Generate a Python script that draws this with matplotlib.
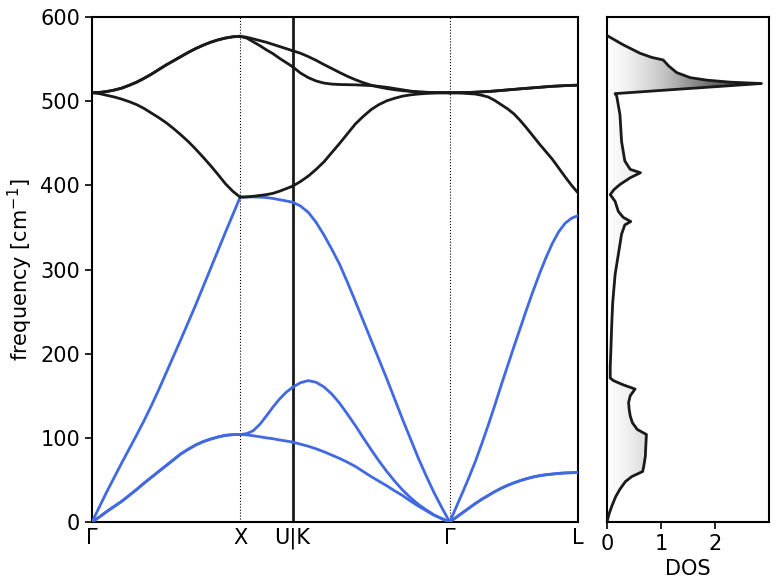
import numpy as np
import matplotlib.pyplot as plt
from matplotlib.patches import Polygon

# high-symmetry path, segment lengths in units of 2pi/a
kpath_labels = ['Γ', 'X', 'U|K', 'Γ', 'L']
seg_lengths = [1.0, 0.3536, 1.0607, 0.8660]

# sample positions along a segment (fraction of its length)
frac21 = [0, 0.05, 0.1, 0.15, 0.2, 0.25, 0.3, 0.35, 0.4, 0.45, 0.5,
          0.55, 0.6, 0.65, 0.7, 0.75, 0.8, 0.85, 0.9, 0.95, 1.0]
frac9 = [0, 0.125, 0.25, 0.375, 0.5, 0.625, 0.75, 0.875, 1.0]

# --- Γ-X ---
gx_ta = [0, 6, 12.5, 18.5, 24.5, 31.5, 38.5, 46, 53, 60, 67,
         74, 81, 86.5, 91.5, 95.5, 98.5, 101, 103, 103.8, 104]
gx_la = [0, 18, 36, 53, 70, 86.5, 103, 120, 138, 157, 177,
         197, 217, 237.5, 258, 279.5, 301, 322.5, 344, 365, 386]
gx_lo = [510, 509, 507, 505, 502.5, 499.5, 496, 491.5, 486, 480.5, 474.5,
         467.5, 460, 452, 443, 433.5, 423.5, 413, 402, 393, 386]
gx_to = [510, 510.4, 511.5, 513.2, 515.5, 518.8, 522.5, 527, 532, 537.5, 543,
         548, 553, 558, 562.5, 566.5, 570, 572.8, 575, 576.5, 577]

# --- X-U ---
xu_ta1 = [104, 103.5, 102.5, 101.3, 100, 99, 97.5, 96.3, 95]
xu_ta2 = [104, 105, 108.5, 116, 126, 136.5, 146, 154, 160]
xu_la = [386, 386.2, 386.2, 386, 385.5, 384.5, 383, 381.5, 380]
xu_lo = [386, 386.3, 387, 388, 389, 390.5, 393, 396, 399]
xu_to1 = [577, 575, 570.5, 566, 561, 556.5, 551, 546, 541]
xu_to2 = [577, 576, 574, 572, 570, 567.5, 565, 562.5, 560]

# --- K-Γ ---
kg_ta1 = [95, 92.5, 90, 87, 83.5, 79.5, 75.5, 71, 66, 60, 54,
          48.5, 43, 37, 31.5, 25, 19, 13.5, 8, 4, 0]
kg_ta2 = [160, 165.5, 168, 166, 160.5, 152, 141, 128, 114.5, 100, 86,
          72.5, 60, 48.5, 38, 29, 21, 14.5, 8.5, 4, 0]
kg_la = [380, 375.5, 368, 356, 341, 324, 306, 284.5, 262, 239, 216,
         193, 170, 146, 122, 99, 76, 55, 35, 17, 0]
kg_lo = [399, 404.5, 411, 419, 428, 439, 450, 461.5, 473, 482, 490,
         496, 500.5, 503.5, 506, 507.5, 508.5, 509.2, 509.6, 509.9, 510]
kg_to1 = [541, 533.5, 528, 524, 521.5, 520.3, 519.8, 519.6, 519.4, 519, 518.5,
          517.6, 516.5, 515, 513.5, 512, 511, 510.5, 510.3, 510.1, 510]
kg_to2 = [560, 557, 553, 548.5, 543.5, 538.8, 534, 529.5, 525.5, 522, 519,
          516.8, 515, 513.6, 512.5, 511.7, 511, 510.6, 510.3, 510.1, 510]

# --- Γ-L ---
gl_ta = [0, 5.5, 11, 16.5, 22, 27, 31.5, 36, 40, 43.5, 46.5,
         49.2, 51.5, 53.5, 55, 56.2, 57, 57.8, 58.3, 58.6, 58.8]
gl_la = [0, 17.5, 35, 53, 72, 93, 115, 138, 162, 185, 208,
         230.5, 253, 274.5, 295, 314, 331, 345, 355, 361, 364]
gl_lo = [510, 509.9, 509.5, 509, 508.5, 507, 505, 501, 496, 491, 485,
         477, 468, 458.5, 449, 440, 431, 420.5, 410, 400, 391]
gl_to = [510, 510.05, 510.2, 510.4, 510.7, 511.1, 511.5, 512.1, 512.7, 513.4, 514,
         514.7, 515.3, 515.9, 516.5, 517.1, 517.7, 518.1, 518.5, 518.8, 519]

# phonon DOS
dos_freq = [0, 10, 19, 30, 39, 48, 54, 60, 66, 78, 92, 104, 110, 118, 126, 134,
            142, 150, 158, 163, 168, 171, 185, 201, 230, 260, 294, 318, 342, 353,
            357, 362, 369, 381, 389, 395, 401, 409, 415, 419, 429, 452, 484, 506,
            509, 512, 515, 518, 521, 522.6, 525, 528, 534, 542, 549, 552, 557,
            567, 578]
dos_value = [0, 0.04, 0.09, 0.16, 0.24, 0.34, 0.46, 0.66, 0.68, 0.71, 0.72, 0.73,
             0.56, 0.47, 0.43, 0.41, 0.40, 0.43, 0.52, 0.30, 0.12, 0.06, 0.06,
             0.07, 0.085, 0.105, 0.15, 0.21, 0.27, 0.33, 0.44, 0.30, 0.21, 0.15,
             0.06, 0.13, 0.24, 0.43, 0.62, 0.43, 0.33, 0.27, 0.24, 0.18, 0.15,
             0.82, 1.50, 2.18, 2.86, 2.28, 1.85, 1.54, 1.29, 1.14, 1.04, 0.83,
             0.61, 0.30, 0.0]

acoustic_color = '#4169e1'
optical_color = '#1a1a1a'

segments = [
    (frac21, [gx_ta, gx_ta, gx_la], [gx_lo, gx_to, gx_to]),
    (frac9, [xu_ta1, xu_ta2, xu_la], [xu_lo, xu_to1, xu_to2]),
    (frac21, [kg_ta1, kg_ta2, kg_la], [kg_lo, kg_to1, kg_to2]),
    (frac21, [gl_ta, gl_ta, gl_la], [gl_lo, gl_to, gl_to]),
]
kticks = np.concatenate([[0], np.cumsum(seg_lengths)])

fig = plt.figure(figsize=(7.79, 5.87), dpi=100)
ax = fig.add_axes([0.1181, 0.1107, 0.6239, 0.8603])
ax_dos = fig.add_axes([0.7792, 0.1107, 0.2080, 0.8603])

for i, (frac, acoustic, optical) in enumerate(segments):
    k = kticks[i] + np.asarray(frac) * seg_lengths[i]
    for band in acoustic:
        ax.plot(k, band, color=acoustic_color, lw=2, zorder=3,
                solid_joinstyle='round')
    for band in optical:
        ax.plot(k, band, color=optical_color, lw=2, zorder=3,
                solid_joinstyle='round')

ax.axvline(kticks[1], color='k', ls=':', lw=0.8)
ax.axvline(kticks[2], color='#1a1a1a', ls='-', lw=2)
ax.axvline(kticks[3], color='k', ls=':', lw=0.8)

ax.set_xlim(kticks[0], kticks[-1])
ax.set_ylim(0, 600)
ax.set_xticks(kticks)
ax.set_xticklabels(kpath_labels)
ax.set_yticks(np.arange(0, 601, 100))
ax.tick_params(axis='x', length=0, labelsize=15, pad=4)
ax.tick_params(axis='y', labelsize=15, length=5, width=1.2)
ax.set_ylabel('frequency [cm$^{-1}$]', fontsize=15)
for sp in ax.spines.values():
    sp.set_linewidth(1.5)

# DOS panel with grey gradient under the curve
dos_xmax = 3.0
grad = np.linspace(0, 1, 256).reshape(1, -1)
im = ax_dos.imshow(grad, cmap='Greys', aspect='auto', origin='lower',
                   extent=[0, dos_xmax, 0, 600], zorder=1)
verts = np.column_stack([np.r_[0, dos_value, 0],
                         np.r_[dos_freq[0], dos_freq, dos_freq[-1]]])
clip = Polygon(verts, closed=True, facecolor='none', edgecolor='none',
               transform=ax_dos.transData)
ax_dos.add_patch(clip)
im.set_clip_path(clip)
ax_dos.plot(dos_value, dos_freq, color='#1a1a1a', lw=2, zorder=3)

ax_dos.set_xlim(0, dos_xmax)
ax_dos.set_ylim(0, 600)
ax_dos.set_yticks([])
ax_dos.set_xticks([0, 1, 2])
ax_dos.tick_params(axis='x', labelsize=15, length=5, width=1.2)
ax_dos.set_xlabel('DOS', fontsize=15)
for sp in ax_dos.spines.values():
    sp.set_linewidth(1.5)

fig.savefig('out.png', dpi=100)
